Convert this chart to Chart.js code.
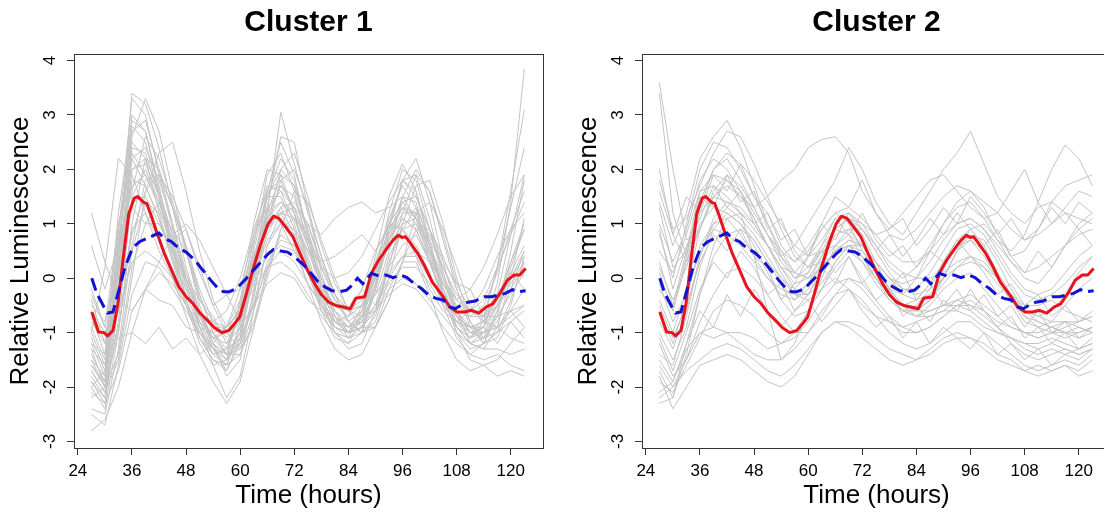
<!DOCTYPE html>
<html>
<head>
<meta charset="utf-8">
<script src="https://cdn.jsdelivr.net/npm/chart.js@4.4.1/dist/chart.umd.min.js"></script>
<style>
  html, body { margin: 0; padding: 0; background: #fff; width: 1104px; height: 518px; overflow: hidden; }
  .panel { position: absolute; top: 0; width: 560px; height: 518px; }
  #panel1 { left: 0; }
  #panel2 { left: 568px; }
</style>
</head>
<body>
<div class="panel" id="panel1"><canvas id="cluster1" width="560" height="518"></canvas></div>
<div class="panel" id="panel2"><canvas id="cluster2" width="560" height="518"></canvas></div>
<script>
// Axis ticks
const hourTicks = [24, 36, 48, 60, 72, 84, 96, 108, 120];
const lumTicks = [-3, -2, -1, 0, 1, 2, 3, 4];

// Sampling times of the individual luminescence traces (hours)
const traceHours = [27, 30, 33, 36, 39, 42, 45, 48, 51, 54, 57,
                    60, 63, 66, 69, 72, 75, 78, 81, 84, 87, 90,
                    93, 96, 99, 102, 105, 108, 111, 114, 117, 120, 123];

// Reference profile (red, solid)
const redHours = [27.1, 28.6, 29.8, 30.6, 31.8, 32.9, 34.1, 35.3, 36.5, 37.3, 38.5, 39.3, 40.1, 41.6, 43.2,
                  44.8, 46.4, 48.0, 49.6, 51.1, 52.7, 54.3, 55.9, 57.5, 59.1, 59.9, 61.4, 63.0, 64.6, 66.2,
                  67.4, 68.6, 70.1, 71.7, 73.3, 74.9, 76.5, 78.1, 79.6, 81.2, 82.8, 84.4, 85.6, 87.6, 89.1,
                  90.7, 92.3, 93.9, 95.1, 95.9, 96.7, 97.8, 99.4, 101.0, 102.6, 103.4, 105.0, 106.5, 108.1,
                  109.7, 111.3, 112.9, 114.5, 116.0, 117.6, 119.2, 120.8, 122.0, 123.3];
const redValues = [-0.62, -0.99, -1.0, -1.06, -0.96, -0.47, 0.39, 1.19, 1.47, 1.5, 1.4, 1.37, 1.19, 0.82, 0.45,
                   0.15, -0.16, -0.34, -0.47, -0.64, -0.77, -0.91, -1.0, -0.96, -0.8, -0.71, -0.28, 0.21, 0.64, 1.0,
                   1.14, 1.1, 0.94, 0.76, 0.45, 0.15, -0.1, -0.31, -0.44, -0.5, -0.53, -0.56, -0.37, -0.34, 0.09,
                   0.33, 0.52, 0.70, 0.79, 0.75, 0.76, 0.64, 0.45, 0.21, -0.07, -0.16, -0.34, -0.53, -0.62,
                   -0.62, -0.59, -0.64, -0.53, -0.47, -0.28, -0.04, 0.06, 0.06, 0.18];

// Average profile (blue, dashed)
const blueHours = [27.1, 28.2, 29.8, 30.6, 31.8, 32.9, 34.5, 36.1, 37.7, 39.3, 40.9, 42.0, 43.2, 44.8, 45.6,
                   46.4, 48.0, 50.0, 51.1, 52.3, 53.5, 55.1, 56.3, 57.5, 59.1, 59.9, 61.4, 63.0, 64.6, 66.2,
                   67.4, 69.0, 70.5, 72.1, 74.1, 75.7, 77.3, 78.8, 80.4, 82.0, 83.6, 84.8, 86.0, 87.2, 89.1,
                   90.7, 92.3, 93.9, 95.5, 97.0, 98.6, 100.2, 101.8, 103.4, 105.0, 106.5, 107.7, 108.9, 110.5,
                   112.1, 114.1, 115.7, 117.3, 118.8, 120.4, 121.6, 123.3];
const blueValues = [0.0, -0.28, -0.53, -0.64, -0.62, -0.28, 0.21, 0.55, 0.67, 0.73, 0.79, 0.83, 0.73, 0.67, 0.61,
                    0.55, 0.48, 0.33, 0.21, 0.09, -0.04, -0.19, -0.25, -0.25, -0.19, -0.13, 0.0, 0.15, 0.30, 0.45,
                    0.53, 0.50, 0.48, 0.39, 0.24, 0.09, -0.07, -0.16, -0.23, -0.25, -0.22, -0.13, 0.0, -0.10, 0.09,
                    0.04, 0.06, 0.01, 0.06, 0.01, -0.10, -0.19, -0.31, -0.37, -0.40, -0.53, -0.56, -0.50, -0.44,
                    -0.42, -0.34, -0.34, -0.31, -0.28, -0.21, -0.25, -0.23];

// Cluster 1 traces (one row per sample, values at traceHours)
const cluster1Traces = [
  [-1.2,-1.8,0.8,3.3,3.0,1.9,0.9,-0.1,-0.9,-1.4,-1.6, -0.8,0.6,1.9,2.3,1.6,0.6,-0.3,-0.9,-1.1,-0.6,0.4, 1.5,2.1,1.6,0.6,-0.2,-0.9,-1.1,-0.7,0.2,1.3,2.4],
  [-1.6,-2.0,0.3,3.4,3.2,2.4,1.3,0.2,-0.6,-1.3,-1.7, -1.2,0.2,1.6,2.5,1.9,0.8,-0.2,-0.8,-1.0,-0.8,0.1, 1.2,2.0,1.8,0.9,0.0,-0.7,-1.0,-0.9,-0.3,0.8,1.9],
  [-0.9,-1.5,1.2,2.9,2.7,1.6,0.6,-0.4,-1.0,-1.3,-1.4, -0.6,0.8,1.7,1.6,1.0,0.2,-0.5,-0.9,-1.0,-0.5,0.3, 1.0,1.4,1.1,0.3,-0.4,-0.9,-1.2,-1.0,-0.5,0.1,0.6],
  [-2.1,-2.3,-0.5,2.6,3.3,2.7,1.6,0.5,-0.5,-1.2,-1.8, -1.5,-0.2,1.3,2.6,2.5,1.3,0.1,-0.7,-1.1,-1.0,-0.2, 0.9,1.8,2.2,1.4,0.3,-0.6,-1.2,-1.3,-0.9,0.0,1.1],
  [-1.4,-1.9,0.6,2.8,2.5,1.5,0.4,-0.5,-1.2,-1.6,-1.5, -0.4,1.0,2.0,1.9,1.2,0.2,-0.6,-1.1,-1.2,-0.7,0.2, 1.1,1.7,1.3,0.4,-0.5,-1.1,-1.4,-1.2,-0.6,0.3,0.9],
  [-1.0,-1.6,0.4,2.0,2.1,1.5,0.8,0.0,-0.7,-1.1,-1.2, -0.7,0.3,1.3,1.6,1.3,0.6,-0.1,-0.6,-0.8,-0.6,0.0, 0.8,1.3,1.2,0.6,-0.1,-0.6,-0.9,-0.9,-0.5,0.0,0.4],
  [-1.8,-2.2,-0.3,2.2,2.4,1.8,1.0,0.1,-0.6,-1.2,-1.5, -1.1,0.0,1.2,1.9,1.7,0.9,0.0,-0.6,-0.9,-0.8,-0.2, 0.7,1.4,1.5,0.9,0.1,-0.6,-1.0,-1.1,-0.8,-0.2,0.5],
  [-0.6,-1.0,-0.4,0.8,1.6,2.3,2.5,1.6,0.5,-0.4,-0.9, -0.6,0.2,0.9,1.3,1.4,1.0,0.3,-0.3,-0.6,-0.5,0.0, 0.6,1.0,1.1,0.8,0.2,-0.3,-0.6,-0.7,-0.5,-0.2,0.2],
  [-2.5,-2.7,-1.6,-0.3,0.3,0.2,-0.2,-0.6,-1.0,-1.3,-1.5, -1.2,-0.5,0.2,0.5,0.3,-0.1,-0.5,-0.8,-0.9,-0.8,-0.5, -0.1,0.2,0.2,-0.1,-0.5,-0.8,-1.0,-1.0,-0.9,-0.7,-0.5],
  [-2.8,-2.6,-2.0,-1.0,-0.2,0.1,-0.1,-0.5,-0.9,-1.3,-1.6, -1.4,-0.6,0.3,0.7,0.6,0.1,-0.4,-0.8,-1.0,-0.9,-0.5, 0.0,0.4,0.4,0.0,-0.4,-0.7,-0.9,-1.0,-0.9,-1.1,-1.2],
  [-0.3,-0.9,-1.1,-1.0,-1.2,-0.9,-1.3,-1.1,-1.4,-1.2,-0.9, -0.6,-0.2,0.2,0.3,0.1,-0.3,-0.7,-1.0,-1.1,-0.9,-0.6, -0.3,-0.1,-0.2,-0.5,-0.9,-1.2,-1.4,-1.5,-1.4,-1.6,-1.7],
  [1.2,0.3,-0.4,-0.6,-0.2,0.3,0.8,1.0,0.7,0.2,-0.3, -0.2,0.4,0.9,1.2,1.3,1.0,0.8,1.1,1.3,1.4,1.2, 1.3,1.5,1.1,0.6,0.0,-0.4,-0.6,-0.4,0.2,0.8,1.4],
  [0.6,-0.2,0.6,1.7,1.9,1.4,0.6,-0.2,-0.8,-1.0,-0.9, -0.4,0.4,1.1,1.4,1.2,0.6,0.0,-0.4,-0.6,-0.4,0.2, 0.9,1.3,1.0,0.4,-0.2,-0.6,-0.7,-0.5,0.1,0.9,1.6],
  [-1.5,-2.0,-0.2,2.0,2.2,1.6,0.8,0.0,-0.7,-1.2,-1.4, -1.0,0.1,1.1,1.7,1.5,0.7,-0.1,-0.7,-0.9,-0.7,-0.1, 0.7,1.2,1.2,0.5,-0.2,-0.8,-1.1,-0.9,-0.1,1.4,3.85],
  [-1.7,-2.1,0.1,2.7,2.9,2.0,1.0,0.0,-0.8,-1.3,-1.5, -1.0,0.3,1.5,2.0,1.7,0.8,-0.1,-0.7,-1.0,-0.9,-0.2, 0.9,1.8,1.9,1.1,0.1,-0.7,-1.1,-0.8,0.2,1.6,3.1],
  [-1.3,-2.0,-1.0,1.0,2.2,2.0,1.3,0.6,-0.3,-1.0,-1.4, -1.3,-0.4,1.2,3.05,2.1,1.2,0.4,-0.3,-0.8,-1.0,-0.8, 0.0,1.0,1.7,1.8,1.0,0.0,-0.8,-1.2,-1.0,-0.4,0.3],
  [-1.9,-2.2,-0.8,1.5,2.0,1.4,0.7,-0.1,-0.9,-1.6,-2.2, -1.8,-0.6,0.6,1.2,1.1,0.4,-0.4,-1.0,-1.3,-1.2,-0.6, 0.3,0.9,1.0,0.5,-0.3,-1.0,-1.5,-1.6,-1.5,-1.2,-0.9],
  [-2.0,-2.4,-1.0,0.9,1.2,0.7,0.0,-0.7,-1.4,-1.9,-2.3, -1.9,-0.9,0.2,0.8,0.6,-0.1,-0.8,-1.3,-1.5,-1.4,-0.9, -0.2,0.3,0.3,-0.3,-1.0,-1.5,-1.7,-1.6,-1.8,-1.7,-1.8],
  [-1.1,-1.7,0.0,2.4,2.3,1.5,0.5,-0.4,-1.1,-1.5,-1.6, -0.9,0.5,1.6,1.8,1.2,0.3,-0.5,-1.0,-1.2,-1.0,-0.2, 0.8,1.5,1.4,0.6,-0.3,-1.0,-1.3,-1.2,-0.7,0.2,0.9],
  [-0.4,-1.2,0.9,2.5,2.2,1.2,0.3,-0.5,-1.1,-1.4,-1.3, -0.5,0.7,1.5,1.5,0.9,0.1,-0.6,-0.9,-1.0,-0.7,0.0, 0.7,1.1,0.9,0.3,-0.4,-0.9,-1.1,-1.0,-0.7,-0.3,0.1],
  [-0.8,-1.2,-0.6,0.3,0.5,0.3,0.0,-0.3,-0.6,-0.9,-0.9, -0.6,-0.1,0.4,0.6,0.5,0.2,-0.2,-0.5,-0.6,-0.5,-0.3, 0.1,0.4,0.5,0.3,-0.1,-0.4,-0.6,-0.7,-0.7,-0.6,-0.5],
  [-2.4,-2.5,-1.3,0.6,1.8,1.9,1.3,0.5,-0.3,-1.0,-1.4, -1.2,-0.3,0.9,1.8,2.0,1.3,0.4,-0.3,-0.8,-1.0,-0.7, 0.2,1.2,1.9,1.6,0.7,-0.2,-0.9,-1.2,-1.1,-0.5,0.4],
  [-1.3,-1.6,0.2,1.8,1.7,1.1,0.4,-0.3,-0.9,-1.1,-1.0, -0.5,0.4,1.2,1.4,1.1,0.5,-0.1,-0.5,-0.7,-0.5,0.1, 0.7,1.1,0.9,0.3,-0.3,-0.7,-0.9,-0.8,-0.5,-0.1,0.3],
  [-1.6,-1.9,0.4,3.0,2.7,1.7,0.6,-0.4,-1.1,-1.5,-1.7, -1.1,0.2,1.5,2.2,1.8,0.8,-0.2,-0.8,-1.0,-0.9,-0.1, 1.0,1.8,1.6,0.7,-0.2,-0.9,-1.2,-1.1,-0.6,0.5,1.8],
  [-0.5,-0.8,0.3,1.4,1.5,1.0,0.5,0.0,-0.4,-0.8,-0.9, -0.6,0.0,0.7,1.0,0.9,0.5,0.3,0.4,0.6,0.8,0.5, 0.9,1.3,1.1,0.5,-0.1,-0.5,-0.7,-0.7,-0.4,0.0,0.5],
  [-2.2,-2.0,-1.4,0.2,1.0,1.0,0.6,0.0,-0.6,-1.1,-1.4, -1.4,-0.8,0.1,0.9,1.1,0.8,0.2,-0.4,-0.8,-1.0,-0.9, -0.4,0.3,0.9,0.9,0.4,-0.2,-0.8,-1.1,-1.0,-0.8,-0.6],
  [-1.0,0.2,2.2,1.9,1.2,0.5,0.0,-0.5,-0.8,-1.1,-0.9, -0.2,0.8,1.3,1.0,0.5,-0.1,-0.5,-0.8,-0.7,-0.2,0.5, 1.0,0.9,0.4,-0.2,-0.6,-0.8,-0.6,-0.2,0.4,0.9,1.2],
  [-1.5,-1.8,0.1,1.3,1.0,1.4,0.7,0.9,0.1,-0.5,-0.3, -0.8,0.1,0.8,1.3,0.8,1.0,0.2,-0.3,-0.6,-0.2,-0.5, 0.4,0.9,1.3,0.7,0.2,-0.4,-0.2,-0.7,-0.3,0.1,-0.2],
  [-1.7,-2.1,-1.5,0.0,1.6,1.9,1.5,0.9,0.2,-0.5,-1.0, -1.3,-0.9,0.0,0.9,1.6,1.4,0.7,0.0,-0.6,-0.9,-0.9, -0.4,0.3,1.2,1.4,0.9,0.2,-0.5,-0.8,-0.9,-0.6,-0.2],
  [-2.0,-1.7,-0.9,0.5,1.4,1.2,0.9,0.5,-0.4,-0.7,-1.2, -0.9,-0.5,0.6,1.0,0.8,0.3,-0.4,-0.6,-1.0,-0.7,-0.6, 0.2,0.6,0.8,0.3,-0.3,-0.6,-1.0,-0.9,-1.2,-0.8,-1.1],
  [-0.2,-0.9,1.0,2.2,1.7,1.1,0.3,-0.2,-0.7,-0.8,-0.6, 0.0,0.9,1.6,1.7,1.3,0.7,0.2,0.0,0.1,0.4,0.9, 1.4,1.8,1.5,0.9,0.3,-0.1,-0.2,0.2,0.8,1.5,1.9],
  [-1.9,-2.3,-1.7,-0.6,-0.2,-0.4,-0.5,-0.9,-1.0,-1.4,-1.3, -1.1,-0.5,-0.1,0.1,0.0,-0.4,-0.6,-0.9,-1.0,-0.9,-0.6, -0.2,0.0,-0.1,-0.4,-0.7,-1.0,-1.2,-1.3,-1.3,-1.4,-1.3],
  [-1.2,-1.4,0.6,1.6,2.6,2.2,1.4,0.6,-0.2,-0.8,-1.1, -0.8,0.0,1.0,2.0,2.3,1.5,0.6,-0.1,-0.6,-0.7,-0.3, 0.5,1.5,2.0,1.6,0.8,-0.1,-0.6,-0.8,-0.4,0.3,1.0],
  [-0.7,-1.4,0.7,2.3,1.9,1.3,0.5,-0.1,-0.9,-1.0,-1.3, -0.6,0.3,1.0,1.2,0.7,0.2,-0.5,-0.7,-0.9,-0.6,0.1, 0.6,0.9,0.6,0.1,-0.5,-0.8,-0.9,-0.8,-0.9,-0.6,-0.9]
];

// Cluster 2 traces (one row per sample, values at traceHours)
const cluster2Traces = [
  [3.6,2.0,0.7,0.9,1.5,1.8,1.6,1.1,0.6,0.2,0.1, 0.4,0.9,1.2,1.0,0.5,0.1,-0.3,-0.6,-0.7,-0.5,-0.2, 0.0,0.1,-0.2,-0.5,-0.8,-1.0,-1.1,-1.0,-1.1,-1.0,-0.9],
  [3.4,1.2,0.4,1.3,2.0,2.2,1.8,1.3,0.8,0.3,0.0, 0.2,0.6,0.9,0.8,0.4,0.0,-0.4,-0.6,-0.5,-0.2,0.3, 0.7,0.9,0.6,0.1,-0.4,-0.8,-0.9,-0.8,-0.5,-0.2,0.0],
  [1.4,0.6,1.2,2.2,2.6,2.9,2.4,1.7,1.0,0.4,0.0, 0.1,0.5,0.9,1.1,0.8,0.3,-0.2,-0.5,-0.6,-0.4,0.0, 0.5,0.8,0.7,0.3,-0.2,-0.6,-0.8,-0.9,-0.8,-0.8,-0.7],
  [0.5,0.1,0.8,1.6,1.9,1.8,1.5,1.3,1.5,1.8,2.0, 2.4,2.55,2.6,2.3,1.6,1.2,0.8,0.7,0.9,1.2,1.5, 1.7,1.6,1.4,1.2,0.9,0.7,0.8,1.0,1.2,1.1,1.0],
  [-0.2,-0.6,0.3,1.2,1.5,1.4,1.2,0.9,0.6,0.4,0.6, 1.0,1.4,1.8,2.4,2.0,1.4,1.0,0.8,1.2,1.6,2.0, 2.3,2.7,2.1,1.5,1.2,1.0,1.3,1.4,1.2,0.9,0.6],
  [0.2,-0.4,0.2,1.0,1.3,1.2,1.0,0.7,0.3,0.0,-0.2, 0.1,0.6,1.1,1.2,1.0,0.6,0.2,0.0,0.2,0.6,1.0, 1.3,1.4,1.1,0.7,0.5,0.8,1.4,2.0,2.45,2.2,1.7],
  [-1.5,-1.9,-1.2,-0.3,0.4,0.8,0.9,0.7,0.3,-0.1,-0.4, -0.2,0.3,0.8,0.9,0.6,0.2,-0.2,-0.3,0.0,0.5,1.0, 1.4,1.6,1.3,0.8,0.4,0.5,0.9,1.4,1.7,1.8,1.9],
  [-2.3,-2.2,-1.4,-0.3,0.6,1.1,1.2,1.0,0.6,0.1,-0.3, -0.3,0.1,0.5,0.6,0.4,0.0,-0.3,-0.6,-0.6,-0.4,0.0, 0.5,0.7,0.5,0.1,-0.3,-0.6,-0.7,-0.6,-0.3,0.1,0.4],
  [-1.8,-2.4,-2.0,-1.6,-1.5,-1.4,-1.5,-1.7,-1.9,-2.0,-1.8, -1.4,-1.0,-0.8,-0.9,-1.1,-1.3,-1.5,-1.6,-1.5,-1.3,-1.1, -1.0,-1.1,-1.3,-1.5,-1.6,-1.7,-1.6,-1.7,-1.6,-1.7,-1.5],
  [-1.2,-1.8,-1.5,-1.0,-1.1,-1.0,-1.0,-1.1,-1.3,-1.2,-1.0, -0.6,-0.2,0.0,-0.2,-0.5,-0.7,-0.8,-0.9,-0.8,-0.7,-0.6, -0.6,-0.7,-0.9,-1.0,-1.1,-1.2,-1.2,-1.1,-1.2,-1.3,-1.2],
  [-0.8,-1.3,-0.6,0.4,1.0,1.3,1.1,0.8,0.4,0.0,-0.3, -0.4,-0.2,0.2,0.5,0.4,0.0,-0.3,-0.5,-0.7,-0.7,-0.6, -0.4,-0.3,-0.5,-0.7,-0.9,-1.0,-1.1,-1.0,-1.0,-1.1,-1.0],
  [1.3,0.2,0.5,1.4,2.0,2.3,2.1,1.8,1.4,1.0,0.6, 0.4,0.5,0.6,0.5,0.3,0.0,-0.3,-0.5,-0.6,-0.6,-0.5, -0.4,-0.5,-0.6,-0.8,-0.9,-1.0,-1.0,-0.9,-1.0,-1.0,-0.9],
  [2.0,0.8,0.3,0.9,1.6,1.9,1.7,1.3,0.8,0.4,0.1, 0.0,0.2,0.5,0.6,0.3,-0.1,-0.4,-0.6,-0.7,-0.6,-0.5, -0.5,-0.6,-0.8,-1.0,-1.1,-1.2,-1.3,-1.2,-1.3,-1.4,-1.3],
  [-1.6,-2.0,-1.5,-0.8,-0.3,0.1,0.2,0.0,-0.3,-0.7,-1.0, -1.0,-0.7,-0.3,0.0,-0.1,-0.4,-0.7,-0.9,-1.0,-0.9,-0.7, -0.5,-0.5,-0.7,-0.9,-1.1,-1.3,-1.4,-1.3,-1.4,-1.3,-1.2],
  [-2.1,-1.9,-1.3,-1.0,-0.9,-1.0,-1.2,-1.4,-1.5,-1.5,-1.3, -1.0,-0.6,-0.3,-0.2,-0.4,-0.7,-1.0,-1.2,-1.3,-1.2,-1.0, -0.8,-0.8,-1.0,-1.2,-1.4,-1.6,-1.7,-1.6,-1.5,-1.6,-1.4],
  [1.0,0.3,0.9,1.8,2.2,2.0,1.6,1.2,0.8,0.5,0.3, 0.5,0.9,1.2,1.3,1.1,0.8,0.5,0.3,0.3,0.5,0.8, 1.0,1.1,0.9,0.6,0.3,0.1,0.2,0.4,0.6,0.8,0.9],
  [-1.0,-1.5,-0.9,0.2,0.9,1.2,1.0,0.6,0.1,-0.4,-0.7, -0.6,-0.2,0.3,0.6,0.5,0.2,-0.2,-0.5,-0.6,-0.4,-0.1, 0.2,0.4,0.3,0.0,-0.4,-0.7,-0.9,-1.0,-0.9,-0.8,-0.7],
  [0.3,-0.5,0.5,1.6,1.7,1.5,1.2,0.4,-0.6,-1.5,-1.2, -0.6,0.0,0.6,0.8,0.6,0.2,-0.2,-0.5,-0.4,-0.1,0.3, 0.6,0.7,0.4,0.0,-0.4,-0.7,-0.8,-0.9,-1.0,-0.9,-1.0],
  [-0.4,-1.0,-0.2,0.9,1.5,1.7,1.5,1.1,0.6,0.2,-0.1, 0.0,0.4,0.9,1.1,0.9,0.5,0.1,-0.2,-0.2,0.1,0.5, 0.9,1.0,0.8,0.4,0.0,-0.3,-0.4,-0.3,-0.1,0.2,0.4],
  [0.8,0.0,1.0,2.0,2.5,2.4,2.0,1.5,1.0,0.5,0.1, 0.0,0.2,0.5,0.7,0.6,0.3,0.0,-0.2,-0.3,-0.2,0.0, 0.2,0.3,0.2,0.0,-0.3,-0.5,-0.5,-0.4,-0.6,-0.7,-0.8],
  [-0.6,-1.2,-0.4,0.6,1.0,1.1,0.8,0.4,0.0,-0.3,-0.4, -0.1,0.4,0.9,1.1,1.0,0.8,0.9,1.2,1.5,1.8,1.9, 1.6,1.3,1.1,1.2,1.6,2.0,1.4,1.0,1.3,1.6,1.5],
  [-1.9,-2.1,-1.6,-1.1,-0.6,-0.4,-0.5,-0.7,-1.0,-1.2,-1.1, -0.8,-0.4,-0.1,0.0,-0.2,-0.5,-0.8,-1.0,-1.0,-0.9,-0.7, -0.5,-0.4,-0.6,-0.9,-1.2,-1.4,-1.5,-1.4,-1.3,-1.4,-1.3],
  [1.8,0.9,1.1,1.7,2.3,2.7,2.6,2.1,1.5,0.9,0.4, 0.2,0.3,0.6,0.9,0.9,0.6,0.3,0.1,0.0,0.0,0.1, 0.3,0.4,0.2,-0.1,-0.4,-0.6,-0.7,-0.8,-0.8,-0.9,-1.0],
  [-1.4,-1.6,-0.7,0.4,1.1,1.4,1.3,1.0,0.6,0.2,-0.2, -0.3,-0.1,0.3,0.6,0.6,0.3,0.0,-0.3,-0.4,-0.3,0.0, 0.5,0.9,1.0,0.7,0.3,0.0,-0.1,0.2,0.6,1.0,1.2],
  [-0.1,-0.8,-0.3,0.5,0.9,0.8,0.6,0.3,0.0,-0.2,-0.3, -0.1,0.2,0.5,0.7,0.6,0.3,0.0,-0.1,0.0,0.3,0.7, 1.0,1.1,0.9,0.5,0.1,-0.2,-0.3,-0.2,0.1,0.4,0.6],
  [-2.2,-2.0,-1.7,-1.5,-1.3,-1.2,-1.3,-1.5,-1.7,-1.8,-1.6, -1.3,-1.0,-0.8,-0.8,-0.9,-1.1,-1.3,-1.4,-1.5,-1.4,-1.2, -1.1,-1.1,-1.2,-1.4,-1.5,-1.7,-1.8,-1.7,-1.6,-1.8,-1.7],
  [1.6,0.8,1.5,1.2,1.9,1.6,2.1,1.5,1.2,0.7,0.9, 0.4,0.7,1.1,0.8,1.2,0.7,0.4,0.6,0.2,0.5,0.3, 0.7,0.4,0.1,-0.3,-0.1,-0.5,-0.3,-0.7,-0.5,-0.8,-0.6],
  [-1.7,-2.2,-1.2,-0.6,-0.9,-0.3,-0.7,-0.2,-0.6,-0.9,-0.6, -0.3,0.2,-0.1,0.4,0.0,-0.4,-0.2,-0.7,-0.5,-0.8,-0.4, -0.6,-0.2,-0.6,-0.9,-0.7,-1.1,-0.9,-1.2,-1.0,-1.3,-1.1],
  [0.9,-0.2,0.6,1.1,1.7,1.3,1.6,1.0,1.2,0.6,0.3, 0.6,1.0,0.7,1.2,0.9,0.5,0.8,0.4,0.7,1.1,0.8, 1.2,0.9,0.6,0.9,0.4,0.1,0.5,0.2,0.6,0.9,1.1],
  [-1.1,-1.7,-1.0,-0.2,0.3,0.0,0.5,0.2,-0.3,-0.1,-0.6, -0.4,-0.8,-0.5,-0.2,-0.6,-0.9,-0.7,-1.1,-0.8,-1.2,-0.9, -1.1,-1.3,-1.0,-1.4,-1.2,-1.5,-1.3,-1.6,-1.4,-1.5,-1.3],
  [0.1,-0.6,0.4,1.5,1.3,1.9,1.4,1.6,0.9,1.1,0.5, 0.2,0.5,0.1,0.4,-0.1,0.2,-0.2,0.1,-0.4,-0.1,-0.5, -0.2,-0.6,-0.3,-0.7,-0.5,-0.9,-0.6,-1.0,-0.8,-1.1,-0.9],
  [-0.5,-1.1,-0.5,0.3,0.8,0.5,0.9,0.4,0.2,-0.4,-0.1, 0.4,1.0,1.5,1.3,1.8,1.2,0.9,1.1,0.6,0.9,1.3, 1.0,1.5,1.2,0.8,1.1,0.7,0.9,1.3,1.0,1.4,1.2]
];

// Plot ranges (data range padded as the plotting device does by default)
const X_MIN = 23.15, X_MAX = 127.15;
const Y_MIN = -3.12, Y_MAX = 4.12;

const FONT = '"Liberation Sans", Arial, Helvetica, sans-serif';
Chart.defaults.font.family = FONT;
Chart.defaults.color = '#000';

const toPoints = (xs, ys) => ys.map((v, i) => ({ x: xs[i], y: v })).filter(p => p.x !== undefined);

// Box around the plotting region plus the panel heading
const panelFrame = {
  id: 'panelFrame',
  afterDraw(chart, args, opts) {
    const { ctx, chartArea: a } = chart;
    ctx.save();
    ctx.strokeStyle = '#333';
    ctx.lineWidth = 1;
    ctx.strokeRect(Math.round(a.left) + 0.5, Math.round(a.top) + 0.5,
                   Math.round(a.right - a.left), Math.round(a.bottom - a.top));
    ctx.fillStyle = '#000';
    ctx.font = 'bold 30px ' + FONT;
    ctx.textAlign = 'center';
    ctx.textBaseline = 'middle';
    ctx.fillText(opts.text, (a.left + a.right) / 2, 23);
    ctx.restore();
  }
};

function buildDatasets(traces) {
  const sets = [
    { data: toPoints(blueHours, blueValues), borderColor: '#1212d2', borderWidth: 3,
      borderDash: [13, 6], order: 0 },
    { data: toPoints(redHours, redValues), borderColor: '#e8141c', borderWidth: 3,
      borderJoinStyle: 'round', order: 1 }
  ];
  traces.forEach(tr => sets.push({
    data: toPoints(traceHours, tr), borderColor: '#c3c3c3', borderWidth: 1, order: 2
  }));
  return sets;
}

function makeChart(id, title, traces) {
  return new Chart(document.getElementById(id), {
    type: 'line',
    data: { datasets: buildDatasets(traces) },
    options: {
      responsive: false,
      animation: false,
      events: [],
      layout: { padding: { top: 54, right: 17, bottom: 0, left: 0 } },
      elements: { point: { radius: 0 }, line: { tension: 0, fill: false } },
      plugins: { legend: { display: false }, tooltip: { enabled: false }, panelFrame: { text: title } },
      scales: {
        x: {
          type: 'linear', min: X_MIN, max: X_MAX,
          afterBuildTicks: s => { s.ticks = hourTicks.map(v => ({ value: v })); },
          afterFit: s => { s.height = 70; },
          grid: { display: true, drawOnChartArea: false, drawTicks: true, tickLength: 7,
                  tickColor: '#333', tickWidth: 1, color: '#333' },
          border: { display: false },
          ticks: { color: '#000', font: { size: 17 }, padding: 6, autoSkip: false,
                   maxRotation: 0, minRotation: 0 },
          title: { display: true, text: 'Time (hours)', color: '#000', font: { size: 26 },
                   padding: { top: 0, bottom: 7 } }
        },
        y: {
          type: 'linear', min: Y_MIN, max: Y_MAX,
          afterBuildTicks: s => { s.ticks = lumTicks.map(v => ({ value: v })); },
          afterFit: s => { s.width = 74; },
          grid: { display: true, drawOnChartArea: false, drawTicks: true, tickLength: 7,
                  tickColor: '#333', tickWidth: 1, color: '#333' },
          border: { display: false },
          ticks: { color: '#000', font: { size: 17 }, padding: 9, autoSkip: false,
                   minRotation: 90, maxRotation: 90, crossAlign: 'center' },
          title: { display: true, text: 'Relative Luminescence', color: '#000', font: { size: 26 },
                   padding: { top: 5, bottom: 0 } }
        }
      }
    },
    plugins: [panelFrame]
  });
}

makeChart('cluster1', 'Cluster 1', cluster1Traces);
makeChart('cluster2', 'Cluster 2', cluster2Traces);
</script>
</body>
</html>
